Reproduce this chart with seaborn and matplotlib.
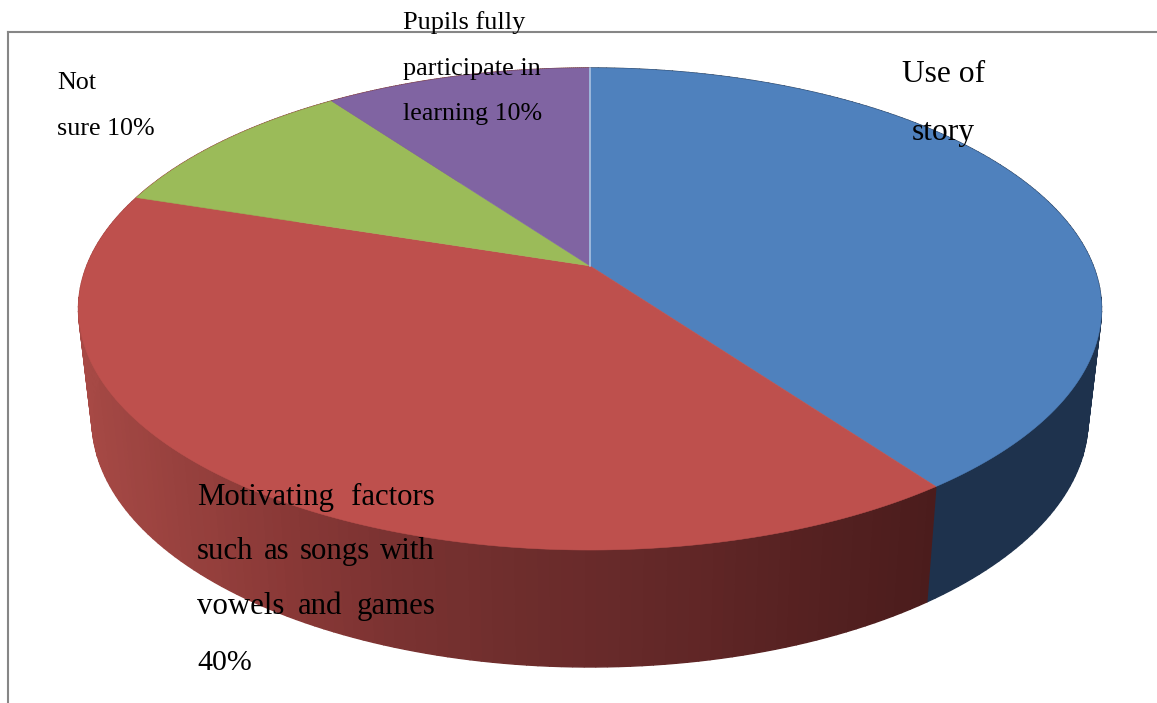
import numpy as np
import matplotlib
matplotlib.use("Agg")
import matplotlib.pyplot as plt
import seaborn as sns

# slices, clockwise from twelve o'clock
categories = ["Use of story", "Motivating factors", "Not sure", "Pupils fully participate"]
shares = [40, 40, 10, 10]

top_colors = ["#4F81BD", "#BE504D", "#9BBB59", "#8064A2"]
wall_colors = ["#1E324D", None, None, None]

# red side wall gets darker from left to right
SHADE_X = [80, 200, 300, 400, 500, 600, 700, 800, 935]
SHADE_R = [168, 150, 136, 122, 112, 104, 96, 86, 74]
SHADE_G = [74, 64, 56, 50, 46, 42, 38, 33, 28]
SHADE_B = [70, 61, 54, 49, 45, 42, 38, 33, 28]

# pixel geometry of the tilted disc
CX = 590
TOP_CY, TOP_A, TOP_B = 309, 511.5, 241
LOW_CY, LOW_A, LOW_B = 420, 498, 247
TILT = 0.179  # how far the apex sits above the ellipse centre


def rim(theta, cy, a, b):
    # circle -> ellipse through a projective map, keeps the apex off centre
    x, y = np.sin(theta), np.cos(theta)
    den = 1 + TILT * y
    px = x * np.sqrt(1 - TILT ** 2) / den
    py = (y + TILT) / den
    return CX + a * px, cy - b * py


def justified(ax, words, left, right, baseline, size):
    texts = [ax.text(left, baseline, w, fontsize=size, family="Liberation Serif",
                     color="black", va="baseline", ha="left", zorder=10) for w in words]
    renderer = ax.figure.canvas.get_renderer()
    widths = [t.get_window_extent(renderer).width for t in texts]
    gap = (right - left - sum(widths)) / max(len(words) - 1, 1)
    x = left
    for t, w in zip(texts, widths):
        t.set_x(x)
        x += w + gap


def main():
    sns.set_theme(style="white")
    fig = plt.figure(figsize=(11.57, 7.03), dpi=100)
    ax = fig.add_axes([7.5 / 1157, 0, 1 - 7.5 / 1157, 1 - 32 / 703])
    ax.set_xlim(7.5, 1157)
    ax.set_ylim(703, 32)
    ax.set_xticks([])
    ax.set_yticks([])
    sns.despine(ax=ax, top=False, right=True, left=False, bottom=True)
    for side in ["top", "left"]:
        ax.spines[side].set_color("#868686")
        ax.spines[side].set_linewidth(1.5)

    edges = np.cumsum([0] + shares) / sum(shares) * 2 * np.pi

    # side wall first, top face goes over it
    for i in range(len(shares)):
        n = 130
        thetas = np.linspace(edges[i], edges[i + 1], n + 1)
        tx, ty = rim(thetas, TOP_CY, TOP_A, TOP_B)
        lx, ly = rim(thetas, LOW_CY, LOW_A, LOW_B)
        for j in range(n):
            mid = (lx[j] + lx[j + 1]) / 2
            if wall_colors[i]:
                c = wall_colors[i]
            else:
                # quantised a little so the bands show like in the original
                q = round(mid / 6) * 6
                c = (np.interp(q, SHADE_X, SHADE_R) / 255,
                     np.interp(q, SHADE_X, SHADE_G) / 255,
                     np.interp(q, SHADE_X, SHADE_B) / 255)
            ax.fill([tx[j], tx[j + 1], lx[j + 1], lx[j]],
                    [ty[j], ty[j + 1], ly[j + 1], ly[j]],
                    color=c, lw=1.0, zorder=3)

    # top face
    seam_x, seam_y = rim(0.0, TOP_CY, TOP_A, TOP_B)
    apex_y = TOP_CY - TOP_B * TILT
    for i in range(len(shares)):
        thetas = np.linspace(edges[i], edges[i + 1], 200)
        x, y = rim(thetas, TOP_CY, TOP_A, TOP_B)
        ax.fill(np.r_[CX, x], np.r_[apex_y, y], color=top_colors[i], lw=0.4, zorder=4)

    # pale seam between purple and blue
    ax.plot([CX, seam_x], [apex_y, seam_y], color="#9DB8DC", lw=1.4, zorder=5)

    # labels
    serif = dict(family="Liberation Serif", color="black", va="baseline", zorder=10)
    ax.text(943.5, 82, "Use of", fontsize=22.7, ha="center", **serif)
    ax.text(943.5, 140, "story", fontsize=22.7, ha="center", **serif)
    ax.text(57, 89, "Not", fontsize=18.7, ha="left", **serif)
    ax.text(57, 135, "sure 10%", fontsize=18.7, ha="left", **serif)
    ax.text(403, 28.5, "Pupils fully", fontsize=18.9, ha="left", clip_on=False, **serif)
    ax.text(403, 75, "participate in", fontsize=18.9, ha="left", **serif)
    ax.text(403, 120, "learning 10%", fontsize=18.7, ha="left", **serif)

    fig.canvas.draw()
    justified(ax, ["Motivating", "factors"], 197, 435, 505, 22.2)
    justified(ax, ["such", "as", "songs", "with"], 197, 435, 559, 22.2)
    justified(ax, ["vowels", "and", "games"], 197, 435, 614, 22.2)
    ax.text(197, 670, "40%", fontsize=21.5, ha="left", **serif)

    fig.savefig("out.png", dpi=100, facecolor="white")
    plt.close(fig)


if __name__ == "__main__":
    main()
